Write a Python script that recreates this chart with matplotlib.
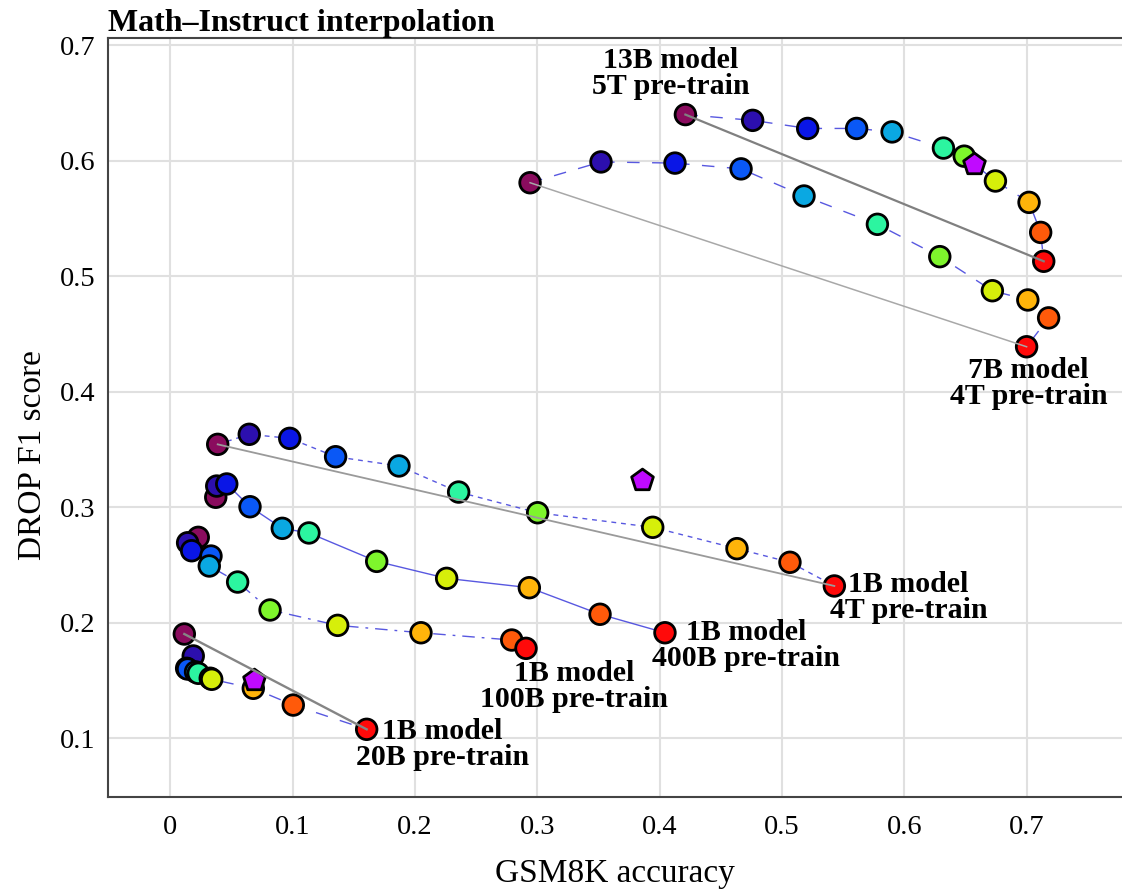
import matplotlib
matplotlib.use("Agg")
import matplotlib.pyplot as plt

# --- dados ---
interp_colors = ["#8a0c5e", "#2c0fae", "#0a16e6", "#0a58f6", "#0aa8e2", "#2cf5a0",
                 "#7ef52c", "#d6ef0a", "#ffb40a", "#ff5a0a", "#ff0a0a"]

x_13b_5t = [0.421, 0.476, 0.521, 0.561, 0.590, 0.632, 0.649, 0.6745, 0.702, 0.7115, 0.714]
y_13b_5t = [0.640, 0.635, 0.628, 0.628, 0.625, 0.611, 0.604, 0.5825, 0.564, 0.538, 0.513]

x_7b_4t = [0.294, 0.352, 0.4125, 0.4665, 0.518, 0.578, 0.629, 0.672, 0.701, 0.718, 0.700]
y_7b_4t = [0.581, 0.599, 0.598, 0.593, 0.5695, 0.545, 0.517, 0.4875, 0.4795, 0.464, 0.439]

x_1b_4t = [0.0386, 0.0644, 0.0975, 0.135, 0.1868, 0.2356, 0.3002, 0.3943, 0.4632, 0.5065, 0.5428]
y_1b_4t = [0.3545, 0.3632, 0.3597, 0.3438, 0.3358, 0.3132, 0.2953, 0.2827, 0.2642, 0.2524, 0.2319]

x_1b_400b = [0.037, 0.0378, 0.046, 0.065, 0.0914, 0.1132, 0.1686, 0.2258, 0.2934, 0.3512, 0.4043]
y_1b_400b = [0.3087, 0.3184, 0.3202, 0.3005, 0.2818, 0.2778, 0.2532, 0.2385, 0.2304, 0.2074, 0.1914]

x_1b_100b = [0.0227, 0.014, 0.0173, 0.0331, 0.0317, 0.0549, 0.0814, 0.1367, 0.2048, 0.279, 0.2907]
y_1b_100b = [0.274, 0.2693, 0.2624, 0.2578, 0.2492, 0.2353, 0.2111, 0.1978, 0.1914, 0.1851, 0.1779]

x_1b_20b = [0.0113, 0.0186, 0.0132, 0.0140, 0.0205, 0.0227, 0.0325, 0.0337, 0.0677, 0.1004, 0.1604]
y_1b_20b = [0.1903, 0.1713, 0.1606, 0.1600, 0.1575, 0.1563, 0.1520, 0.1511, 0.1433, 0.1288, 0.1078]

# pentágonos (modelo misto)
x_penta = [0.657, 0.3858, 0.0685]
y_penta = [0.597, 0.3236, 0.1505]

x_ticks = [0, 0.1, 0.2, 0.3, 0.4, 0.5, 0.6, 0.7]
y_ticks = [0.1, 0.2, 0.3, 0.4, 0.5, 0.6, 0.7]

# (x, y, dashes, linha cinza?, rótulo, offset do rótulo em px, ponto ancorado)
series = [
    (x_13b_5t, y_13b_5t, (9, 9), ("#808080", 1.6), "13B model\n5T pre-train", (-15, 41), 0),
    (x_7b_4t, y_7b_4t, (9, 9), ("#a8a8a8", 1.1), "7B model\n4T pre-train", (2, -37), -1),
    (x_1b_4t, y_1b_4t, (3.5, 3.5), ("#9a9a9a", 1.3), "1B model\n4T pre-train", (74, -12), -1),
    (x_1b_400b, y_1b_400b, None, None, "1B model\n400B pre-train", (81, -13), -1),
    (x_1b_100b, y_1b_100b, (9, 5, 2, 5), None, "1B model\n100B pre-train", (48, -38), -1),
    (x_1b_20b, y_1b_20b, (9, 9), ("#858585", 1.7), "1B model\n20B pre-train", (76, -15), -1),
]

plt.rcParams["font.family"] = ["Liberation Serif", "DejaVu Serif"]
plt.rcParams["lines.scale_dashes"] = False

fig = plt.figure(figsize=(11.22, 8.89), dpi=100)
ax = fig.add_axes([108 / 1122, 1 - 797 / 889, 1 - 108 / 1122, (797 - 38) / 889])

for xs, ys, dashes, gray, label, off, anchor in series:
    if dashes is None:
        ax.plot(xs, ys, color="#3b3bdb", lw=1.0, alpha=0.85, zorder=2)
    else:
        ax.plot(xs, ys, color="#3b3bdb", lw=1.0, alpha=0.85, dashes=dashes, zorder=2)
    ax.scatter(xs, ys, s=220, c=interp_colors, edgecolors="black", linewidths=2.0, zorder=3)
    if gray is not None:
        ax.plot([xs[0], xs[-1]], [ys[0], ys[-1]], color=gray[0], lw=gray[1], zorder=5)
    ax.annotate(label, xy=(xs[anchor], ys[anchor]), xytext=(off[0] * 0.72, off[1] * 0.72),
                textcoords="offset points", ha="center", va="center",
                fontsize=21.5, fontweight="bold", linespacing=0.95, zorder=6)

ax.scatter(x_penta, y_penta, s=270, marker="p", c="#c00aff", edgecolors="black",
           linewidths=2.0, zorder=4)

ax.set_xlim(-0.0511, 0.778)
ax.set_ylim(0.0492, 0.7063)
ax.set_xticks(x_ticks)
ax.set_xticklabels(["0"] + [f"{v:g}" for v in x_ticks[1:]])
ax.set_yticks(y_ticks)
ax.tick_params(length=0, labelsize=20.5)
ax.tick_params(axis="x", pad=13)
ax.tick_params(axis="y", pad=9)
ax.grid(True, color="#e0e0e0", lw=1.5)
ax.set_axisbelow(True)

for side in ["left", "bottom", "top"]:
    ax.spines[side].set_color("#444444")
    ax.spines[side].set_linewidth(1.5)
ax.spines["right"].set_visible(False)

ax.set_xlabel("GSM8K accuracy", fontsize=24)
ax.xaxis.set_label_coords(0.5, -0.081)
ax.set_ylabel("DROP F1 score", fontsize=24)
ax.yaxis.set_label_coords(-0.059, 0.45)
ax.set_title("Math\u2013Instruct interpolation", loc="left", fontsize=23,
             fontweight="bold", pad=3)

fig.savefig("out.png", dpi=100)
